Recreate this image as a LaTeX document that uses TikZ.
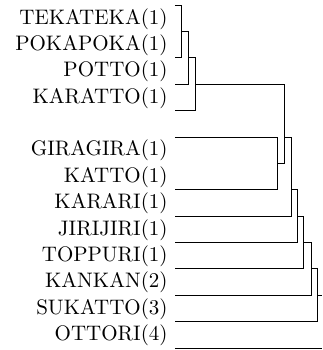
\documentclass[tikz,border=0pt]{standalone}
\usepackage{tikz}

\tikzset{word/.style={anchor=base east, inner sep=0pt}}

\begin{document}
\begin{tikzpicture}[x=1pt, y=-12.56pt]
\useasboundingbox (0,-0.19) rectangle (153.33,13.076);
% Labels
\node [word] (w1) at (80,0.72) {TEKATEKA(1)};
\node [word] (w2) at (80,1.72) {POKAPOKA(1)};
\node [word] (w3) at (80,2.72) {POTTO(1)};
\node [word] (w4) at (80,3.72) {KARATTO(1)};
\node [word] (w5) at (80,5.72) {GIRAGIRA(1)};
\node [word] (w6) at (80,6.72) {KATTO(1)};
\node [word] (w7) at (80,7.72) {KARARI(1)};
\node [word] (w8) at (80,8.72) {JIRIJIRI(1)};
\node [word] (w9) at (80,9.72) {TOPPURI(1)};
\node [word] (w10) at (80,10.72) {KANKAN(2)};
\node [word] (w11) at (80,11.72) {SUKATTO(3)};
\node [word] (w12) at (80,12.72) {OTTORI(4)};
% Leaves
\coordinate (tekateka) at (83.3,0);
\coordinate (pokapoka) at (83.3,2);
\coordinate (potto) at (83.3,3);
\coordinate (karatto) at (83.3,4);
\coordinate (giragira) at (83.3,5);
\coordinate (katto) at (83.3,7);
\coordinate (karari) at (83.3,8);
\coordinate (jirijiri) at (83.3,9);
\coordinate (toppuri) at (83.3,10);
\coordinate (kankan) at (83.3,11);
\coordinate (sukatto) at (83.3,12);
\coordinate (ottori) at (83.3,13);
% Joins
\coordinate (m1) at (86.5,1);
\coordinate (m2) at (89.7,2);
\coordinate (m3) at (92.9,3);
\coordinate (m4) at (132.2,6);
\coordinate (m5) at (135.4,5);
\coordinate (m6) at (138.6,7);
\coordinate (m7) at (141.4,8);
\coordinate (m8) at (144.6,9);
\coordinate (m9) at (148.1,10);
\coordinate (m10) at (151.3,11);
\coordinate (rootin) at (153.33,11);
\coordinate (rootout) at (153.33,13);
% Tree
\draw (tekateka) -| (m1) |- (pokapoka);
\draw (m1) -| (m2) |- (potto);
\draw (m2) -| (m3) |- (karatto);
\draw (giragira) -| (m4) |- (katto);
\draw (m3) -| (m5) |- (m4);
\draw (m5) -| (m6) |- (karari);
\draw (m6) -| (m7) |- (jirijiri);
\draw (m7) -| (m8) |- (toppuri);
\draw (m8) -| (m9) |- (kankan);
\draw (m9) -| (m10) |- (sukatto);
\draw (m10) -- (rootin);
\draw (ottori) -- (rootout);
\end{tikzpicture}
\end{document}
